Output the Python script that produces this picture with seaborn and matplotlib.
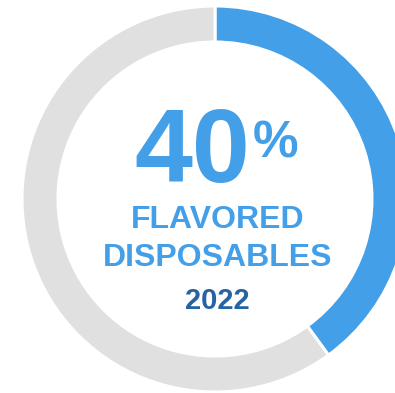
import matplotlib.pyplot as plt
import seaborn as sns

# data
segments = ["Flavored disposables", "Other"]
shares = [40, 60]
headline = "40"
unit = "%"
label_lines = ["FLAVORED", "DISPOSABLES"]
year = "2022"

blue = "#449FE9"
grey = "#E1E0E1"
navy = "#2563A3"

sns.set_theme(style="white")
plt.rcParams["font.family"] = ["Liberation Sans", "DejaVu Sans"]

fig = plt.figure(figsize=(3.95, 3.93), dpi=100)
ax = fig.add_axes([0, 0, 1, 1])

# donut, drawn clockwise from 12 o'clock
ax.pie(shares, colors=[blue, grey], startangle=90, counterclock=False,
       center=(215, 194), radius=193,
       wedgeprops=dict(width=36, edgecolor="white", linewidth=2.2))

ax.set_xlim(0, 395)
ax.set_ylim(0, 393)
ax.set_aspect("equal")
ax.set_axis_off()

# centre text
ax.text(250, 211, headline, ha="right", va="baseline", fontsize=75,
        fontweight="bold", color=blue)
ax.text(253, 236, unit, ha="left", va="baseline", fontsize=37,
        fontweight="bold", color=blue)
ax.text(218, 165, label_lines[0], ha="center", va="baseline", fontsize=23,
        fontweight="bold", color=blue)
ax.text(218, 127, label_lines[1], ha="center", va="baseline", fontsize=23,
        fontweight="bold", color=blue)
ax.text(217, 84, year, ha="center", va="baseline", fontsize=21,
        fontweight="bold", color=navy)

fig.savefig("out.png", dpi=100)
